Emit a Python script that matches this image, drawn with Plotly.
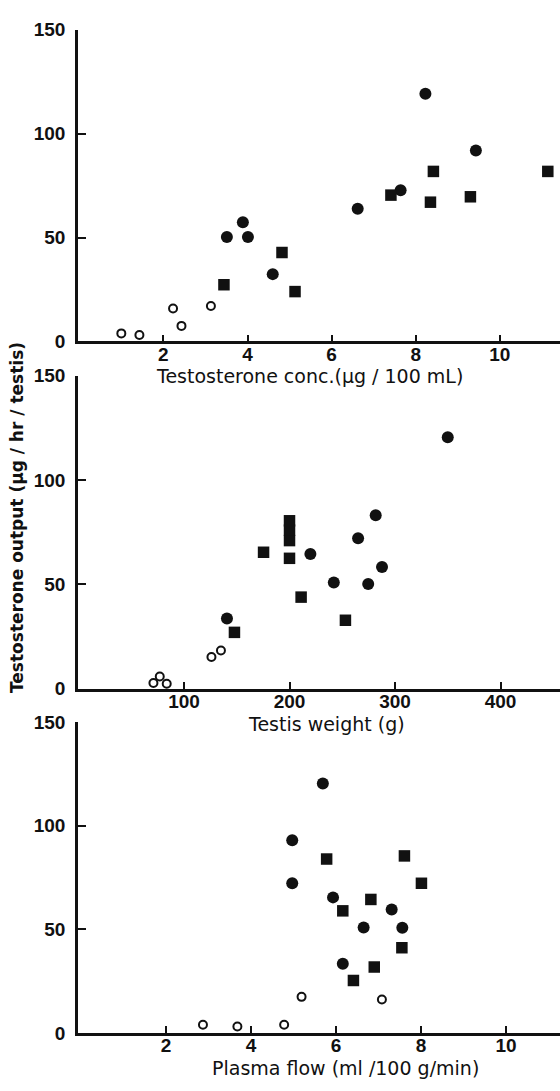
import plotly.graph_objects as go

# ---- data ----
# Panel 1: Testosterone conc. (ug/100 mL)
conc_open_x = [1.00, 1.43, 2.23, 2.43, 3.13]
conc_open_y = [3.9, 3.1, 15.9, 7.5, 17.1]
conc_circ_x = [3.51, 3.89, 4.01, 4.60, 6.62, 7.64, 8.23, 9.43]
conc_circ_y = [50.3, 57.3, 50.3, 32.4, 63.9, 72.7, 119.2, 91.9]
conc_sq_x = [3.44, 4.82, 5.13, 7.41, 8.35, 8.42, 9.30, 11.14]
conc_sq_y = [27.3, 42.8, 24.0, 70.4, 67.0, 81.8, 69.6, 81.8]

# Panel 2: Testis weight (g)
wt_open_x = [71, 77, 83.6, 126, 135]
wt_open_y = [2.7, 5.8, 2.4, 15.2, 18.3]
wt_circ_x = [140.7, 219.8, 242, 265, 274.6, 281.7, 287.7, 350]
wt_circ_y = [33.7, 64.6, 50.9, 72.1, 50.2, 83.2, 58.3, 120.5]
wt_sq_x = [147.8, 175.4, 200, 200, 200, 200, 211, 253]
wt_sq_y = [27.0, 65.4, 62.5, 71.0, 76.0, 80.5, 43.9, 32.8]

# Panel 3: Plasma flow (ml/100 g/min)
pf_open_x = [2.87, 3.68, 4.78, 5.19, 7.08]
pf_open_y = [3.9, 3.1, 3.9, 17.4, 16.1]
pf_circ_x = [5.69, 4.97, 4.97, 5.93, 6.16, 6.65, 7.31, 7.56]
pf_circ_y = [120.3, 93.0, 72.2, 65.4, 33.4, 50.9, 59.5, 50.8]
pf_sq_x = [5.78, 6.16, 6.82, 6.41, 6.90, 7.55, 7.61, 8.01]
pf_sq_y = [83.9, 58.9, 64.4, 25.3, 31.8, 41.1, 85.4, 72.2]

y_ticks = [0, 50, 100, 150]
x1_ticks = [2, 4, 6, 8, 10]
x2_ticks = [100, 200, 300, 400]
x3_ticks = [2, 4, 6, 8, 10]

x1_title = "Testosterone conc.(\u03bcg / 100 mL)"
x2_title = "Testis weight (g)"
x3_title = "Plasma flow (ml /100 g/min)"
y_title = "Testosterone output (\u03bcg / hr / testis)"

W, H = 560, 1091
INK = "#111111"

fig = go.Figure()

panels = [
    (conc_open_x, conc_open_y, conc_circ_x, conc_circ_y, conc_sq_x, conc_sq_y),
    (wt_open_x, wt_open_y, wt_circ_x, wt_circ_y, wt_sq_x, wt_sq_y),
    (pf_open_x, pf_open_y, pf_circ_x, pf_circ_y, pf_sq_x, pf_sq_y),
]
for i, (ox, oy, cx, cy, sx, sy) in enumerate(panels):
    xa = "x" if i == 0 else f"x{i+1}"
    ya = "y" if i == 0 else f"y{i+1}"
    fig.add_trace(go.Scatter(x=ox, y=oy, mode="markers", xaxis=xa, yaxis=ya,
                             cliponaxis=False,
                             marker=dict(symbol="circle-open", size=8, color=INK,
                                         line=dict(width=2, color=INK))))
    fig.add_trace(go.Scatter(x=cx, y=cy, mode="markers", xaxis=xa, yaxis=ya,
                             cliponaxis=False,
                             marker=dict(symbol="circle", size=12, color=INK)))
    fig.add_trace(go.Scatter(x=sx, y=sy, mode="markers", xaxis=xa, yaxis=ya,
                             cliponaxis=False,
                             marker=dict(symbol="square", size=11.5, color=INK)))

# pixel geometry -> paper fractions
def fy(px):
    return 1 - px / H

x_left = 78 / W
domains_y = [(fy(338), fy(20)), (fy(692), fy(373)), (fy(1043), fy(726))]
x_ranges = [[-0.03, 11.43], [-0.5, 456.4], [-0.07, 11.27]]
x_tickvals = [x1_ticks, x2_ticks, x3_ticks]

tickfont = dict(family="Liberation Sans", size=19, color=INK, weight="bold")
common_axis = dict(showgrid=False, zeroline=False, showline=True, linecolor=INK,
                   linewidth=2.5, ticks="inside", tickcolor=INK, tickwidth=2,
                   tickfont=tickfont)

layout = dict(width=W, height=H, margin=dict(l=0, r=0, t=0, b=0),
              paper_bgcolor="white", plot_bgcolor="white", showlegend=False)
for i in range(3):
    xk = "xaxis" if i == 0 else f"xaxis{i+1}"
    yk = "yaxis" if i == 0 else f"yaxis{i+1}"
    ya = "y" if i == 0 else f"y{i+1}"
    xa = "x" if i == 0 else f"x{i+1}"
    layout[xk] = dict(common_axis, domain=[x_left, 1], range=x_ranges[i],
                      anchor=ya, tickmode="array", tickvals=x_tickvals[i],
                      ticklen=7, ticklabelstandoff=-6)
    layout[yk] = dict(common_axis, domain=list(domains_y[i]), range=[0, 150],
                      anchor=xa, tickmode="array", tickvals=y_ticks,
                      ticklen=8, ticklabelstandoff=6)
fig.update_layout(**layout)

title_font = dict(family="DejaVu Sans", size=19, color=INK)
ann = [
    (x1_title, 309, 373),
    (x2_title, 326, 728),
    (x3_title, 345, 1079),
]
for text, px, py in ann:
    fig.add_annotation(text=text, xref="paper", yref="paper", x=px / W, y=fy(py),
                       xanchor="center", yanchor="middle", showarrow=False,
                       font=title_font)
fig.add_annotation(text=y_title, xref="paper", yref="paper", x=17 / W, y=fy(518),
                   xanchor="center", yanchor="middle", showarrow=False,
                   textangle=-90, font=dict(family="DejaVu Sans", size=17,
                                            color=INK, weight="bold"))

fig.write_html("out.html")
